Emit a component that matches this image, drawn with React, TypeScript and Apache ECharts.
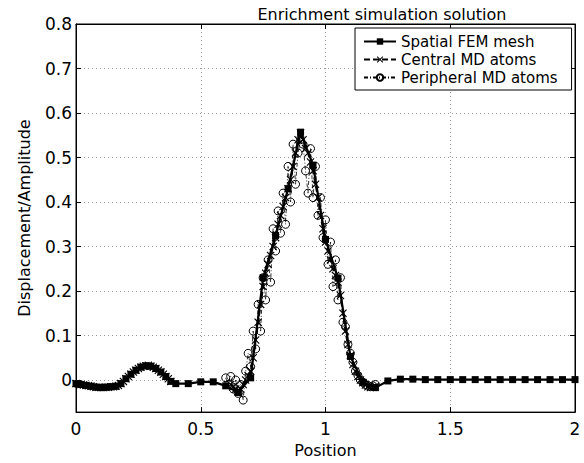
import React, { useEffect, useRef } from "react";
import * as echarts from "echarts";

const FONT = "'DejaVu Sans', 'Liberation Sans', Arial, sans-serif";

const xTickLabels = ["0", "0.5", "1", "1.5", "2"];
const yTickValues = [0, 0.1, 0.2, 0.3, 0.4, 0.5, 0.6, 0.7, 0.8];

// Spatial FEM mesh nodes
const femX = [
  0, 0.02, 0.04, 0.06, 0.08, 0.1, 0.12, 0.14, 0.16, 0.18, 0.2, 0.22, 0.24, 0.26, 0.28, 0.3, 0.32, 0.34, 0.36, 0.38,
  0.4, 0.45, 0.5, 0.55, 0.6, 0.65, 0.7, 0.75, 0.8, 0.85, 0.9, 0.95, 1.0, 1.05, 1.1, 1.15, 1.2, 1.25,
  1.3, 1.35, 1.4, 1.45, 1.5, 1.55, 1.6, 1.65, 1.7, 1.75, 1.8, 1.85, 1.9, 1.95, 2.0,
];
const femY = [
  -0.008, -0.01, -0.012, -0.014, -0.016, -0.017, -0.016, -0.015, -0.014, -0.008, 0.003, 0.013, 0.022, 0.029, 0.032, 0.031, 0.026, 0.018, 0.008, -0.003,
  -0.008, -0.008, -0.004, -0.004, -0.013, -0.028, 0.005, 0.23, 0.325, 0.43, 0.557, 0.483, 0.316, 0.229, 0.053, -0.005, -0.017, -0.002,
  0.002, 0.002, 0.001, 0.001, 0.001, 0.001, 0.001, 0.001, 0.001, 0.001, 0.001, 0.001, 0.001, 0.001, 0.001,
];

// Central MD atoms (left block, then peak block)
const centralLeftX = [
  0, 0.01, 0.02, 0.03, 0.04, 0.05, 0.06, 0.07, 0.08, 0.09, 0.1, 0.11, 0.12, 0.13, 0.14, 0.15, 0.16, 0.17, 0.18, 0.19,
  0.2, 0.21, 0.22, 0.23, 0.24, 0.25, 0.26, 0.27, 0.28, 0.29, 0.3, 0.31, 0.32, 0.33, 0.34, 0.35, 0.36, 0.37, 0.38,
];
const centralLeftY = [
  -0.008, -0.009, -0.01, -0.011, -0.012, -0.013, -0.014, -0.015, -0.016, -0.016, -0.017, -0.017, -0.016, -0.016, -0.015, -0.015, -0.014, -0.012, -0.008, -0.003,
  0.003, 0.008, 0.013, 0.018, 0.022, 0.026, 0.029, 0.031, 0.032, 0.033, 0.031, 0.029, 0.026, 0.022, 0.018, 0.013, 0.008, 0.003, -0.003,
];
const centralPeakX = [
  0.62, 0.63, 0.64, 0.65, 0.66, 0.67, 0.68, 0.69, 0.7, 0.71, 0.72, 0.73, 0.74, 0.75, 0.76, 0.77, 0.78, 0.79, 0.8, 0.81,
  0.82, 0.83, 0.84, 0.85, 0.86, 0.87, 0.88, 0.89, 0.9, 0.91, 0.92, 0.93, 0.94, 0.95, 0.96, 0.97, 0.98, 0.99, 1.0, 1.01,
  1.02, 1.03, 1.04, 1.05, 1.06, 1.07, 1.08, 1.09, 1.1, 1.11, 1.12, 1.13, 1.14, 1.15, 1.16, 1.17, 1.18, 1.19, 1.2,
];
const centralPeakY = [
  -0.01, -0.015, -0.02, -0.025, -0.02, -0.01, 0.0, 0.01, 0.02, 0.05, 0.09, 0.13, 0.17, 0.21, 0.24, 0.26, 0.28, 0.3, 0.32, 0.35,
  0.37, 0.39, 0.41, 0.43, 0.45, 0.48, 0.51, 0.54, 0.555, 0.54, 0.52, 0.51, 0.49, 0.47, 0.44, 0.41, 0.37, 0.34, 0.31, 0.29,
  0.27, 0.25, 0.235, 0.22, 0.19, 0.15, 0.11, 0.08, 0.055, 0.035, 0.02, 0.008, 0.0, -0.006, -0.011, -0.015, -0.017, -0.016, -0.014,
];

// Peripheral MD atoms
const periX = [
  0.6, 0.61, 0.62, 0.63, 0.64, 0.65, 0.66, 0.67, 0.68, 0.69, 0.7, 0.71, 0.72, 0.73, 0.74, 0.75, 0.76, 0.77, 0.78, 0.79,
  0.8, 0.81, 0.82, 0.83, 0.84, 0.85, 0.86, 0.87, 0.88, 0.89, 0.9, 0.91, 0.92, 0.93, 0.94, 0.95, 0.96, 0.97, 0.98, 0.99,
  1.0, 1.01, 1.02, 1.03, 1.04, 1.05, 1.06, 1.07, 1.08, 1.09, 1.1, 1.11, 1.12, 1.13, 1.14, 1.15, 1.16, 1.17, 1.18, 1.19, 1.2,
];
const periY = [
  0.005, -0.01, 0.008, -0.02, 0.0, -0.03, -0.01, -0.045, 0.02, 0.06, 0.03, 0.11, 0.07, 0.17, 0.11, 0.23, 0.18, 0.27, 0.22, 0.34,
  0.29, 0.38, 0.33, 0.42, 0.35, 0.48, 0.4, 0.53, 0.44, 0.51, 0.54, 0.53, 0.47, 0.42, 0.52, 0.41, 0.48, 0.37, 0.41, 0.32,
  0.36, 0.26, 0.31, 0.21, 0.27, 0.18, 0.23, 0.13, 0.12, 0.08, 0.06, 0.04, 0.02, 0.01, 0.0, -0.005, -0.01, -0.012, -0.015, -0.013, -0.01,
];

const zip = (xs: number[], ys: number[]) => xs.map((x, i) => [x, ys[i]]);

const X_SYMBOL =
  "path://M1,0L5,4L9,0L10,1L6,5L10,9L9,10L5,6L1,10L0,9L4,5L0,1Z";

export default function App() {
  const ref = useRef<HTMLDivElement>(null);
  useEffect(() => {
    if (!ref.current) return;
    const chart = echarts.init(ref.current, undefined, { renderer: "svg" });
    const centralData: any[] = [
      ...zip(centralLeftX, centralLeftY),
      [0.5, "-"],
      ...zip(centralPeakX, centralPeakY),
    ];
    const gridLine = { show: true, lineStyle: { color: "#999", type: [1, 3], width: 1 } };
    chart.setOption({
      animation: false,
      backgroundColor: "#fff",
      textStyle: { fontFamily: FONT },
      title: {
        text: "Enrichment simulation solution",
        left: 377,
        textAlign: "center",
        top: 1,
        textStyle: { fontFamily: FONT, fontSize: 16, fontWeight: "normal", color: "#000" },
      },
      legend: {
        data: ["Spatial FEM mesh", "Central MD atoms", "Peripheral MD atoms"],
        orient: "vertical",
        left: 355,
        top: 28,
        backgroundColor: "#fff",
        borderColor: "#000",
        borderWidth: 1,
        borderRadius: 0,
        padding: [6, 14, 5, 8],
        itemGap: 3,
        itemWidth: 32,
        itemHeight: 8,
        textStyle: { fontFamily: FONT, fontSize: 15, color: "#000" },
      },
      grid: {
        left: 76,
        right: 9,
        top: 24,
        bottom: 47,
        show: true,
        borderColor: "#000",
        borderWidth: 1,
        backgroundColor: "transparent",
      },
      xAxis: [
        {
          type: "value",
          min: 0,
          max: 2,
          interval: 0.5,
          name: "Position",
          nameLocation: "middle",
          nameGap: 26,
          nameTextStyle: { fontFamily: FONT, fontSize: 16, color: "#000" },
          axisLine: { show: true, onZero: false, lineStyle: { color: "#000", width: 1 } },
          axisTick: { show: true, inside: true, length: 5, lineStyle: { color: "#000" } },
          axisLabel: {
            color: "#000",
            fontFamily: FONT,
            fontSize: 17,
            margin: 8,
            formatter: (v: number) => xTickLabels[Math.round(v / 0.5)] ?? "",
          },
          splitLine: gridLine,
        },
        {
          type: "value",
          position: "top",
          min: 0,
          max: 2,
          interval: 0.5,
          axisLine: { show: true, onZero: false, lineStyle: { color: "#000" } },
          axisTick: { show: true, inside: true, length: 5, lineStyle: { color: "#000" } },
          axisLabel: { show: false },
          splitLine: { show: false },
        },
      ],
      yAxis: [
        {
          type: "value",
          min: -0.072,
          max: 0.8,
          name: "Displacement/Amplitude",
          nameLocation: "middle",
          nameGap: 44,
          nameTextStyle: { fontFamily: FONT, fontSize: 16, color: "#000" },
          axisLine: { show: true, onZero: false, lineStyle: { color: "#000", width: 1 } },
          axisTick: { show: true, inside: true, length: 5, customValues: yTickValues, lineStyle: { color: "#000" } },
          axisLabel: {
            color: "#000",
            fontFamily: FONT,
            fontSize: 17,
            margin: 4,
            customValues: yTickValues,
            formatter: (v: number) => String(Math.round(v * 10) / 10),
          },
          splitLine: gridLine,
        },
        {
          type: "value",
          position: "right",
          min: -0.072,
          max: 0.8,
          axisLine: { show: true, onZero: false, lineStyle: { color: "#000" } },
          axisTick: { show: true, inside: true, length: 5, customValues: yTickValues, lineStyle: { color: "#000" } },
          axisLabel: { show: false, customValues: yTickValues },
          splitLine: { show: false },
        },
      ],
      series: [
        {
          name: "Peripheral MD atoms",
          type: "line",
          data: zip(periX, periY),
          symbol: "circle",
          symbolSize: 8,
          showAllSymbol: true,
          lineStyle: { color: "#000", width: 0.8, type: [4, 2, 1, 2] },
          itemStyle: { color: "rgba(255,255,255,0)", borderColor: "#000", borderWidth: 1 },
          z: 2,
        },
        {
          name: "Central MD atoms",
          type: "line",
          data: centralData,
          connectNulls: false,
          symbol: X_SYMBOL,
          symbolSize: 8,
          showAllSymbol: true,
          lineStyle: { color: "#000", width: 2, type: [6, 3] },
          itemStyle: { color: "#000" },
          z: 3,
        },
        {
          name: "Spatial FEM mesh",
          type: "line",
          data: zip(femX, femY),
          symbol: "rect",
          symbolSize: 7,
          showAllSymbol: true,
          lineStyle: { color: "#000", width: 2.2 },
          itemStyle: { color: "#000" },
          z: 4,
        },
      ],
    });
    return () => chart.dispose();
  }, []);
  return (
    <div
      ref={ref}
      style={{ position: "fixed", left: 0, top: 0, width: 584, height: 463, background: "#fff" }}
    />
  );
}
